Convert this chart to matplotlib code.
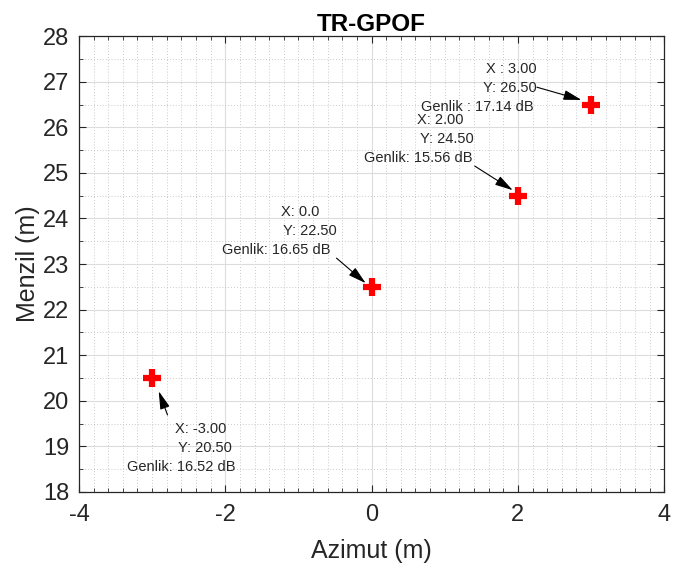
import matplotlib.pyplot as plt
import numpy as np

plt.rcParams['font.family'] = ['Liberation Sans', 'DejaVu Sans']
plt.rcParams['axes.unicode_minus'] = False

# detected targets
azimut = [-3.0, 0.0, 2.0, 3.0]
menzil = [20.5, 22.5, 24.5, 26.5]
genlik = [16.52, 16.65, 15.56, 17.14]

# data tip label text (format differs a bit per tip)
x_fmt = ['X: {:.2f}', 'X: {:.1f}', 'X: {:.2f}', 'X : {:.2f}']
g_fmt = ['Genlik: {:.2f} dB', 'Genlik: {:.2f} dB', 'Genlik: {:.2f} dB', 'Genlik : {:.2f} dB']

# where each data tip sits: (x of text, y of first line, alignment), arrow start and end
tips = [
    ((-2.69, 19.38), (-3.35, 18.55), 'left', (-2.79, 19.69), (-2.91, 20.21)),
    ((-1.245, 24.14), (-2.04, 23.31), 'left', (-0.48, 23.13), (-0.08, 22.58)),
    ((0.62, 26.16), (-0.10, 25.32), 'left', (1.41, 25.15), (1.93, 24.62)),
    ((2.26, 27.28), (2.22, 26.45), 'right', (2.26, 26.88), (2.87, 26.60)),
]

fig = plt.figure(figsize=(6.75, 5.74), dpi=100)
ax = fig.add_axes([0.117, 0.143, 0.867, 0.794])

ax.plot(azimut, menzil, linestyle='none', marker='+', color='red', ms=13, mew=4.5, zorder=5)

tc = '#262626'
for i in range(len(azimut)):
    (xt, y1), (xg, yg), ha, a0, a1 = tips[i]
    y2 = (y1 + yg) / 2
    ax.text(xt, y1, x_fmt[i].format(azimut[i]), fontsize=10.5, ha=ha, va='center', color=tc)
    ax.text(xt if ha == 'right' else xt + 0.04, y2, 'Y: {:.2f}'.format(menzil[i]), fontsize=10.5, ha=ha,
            va='center', color=tc)
    ax.text(xg, yg, g_fmt[i].format(genlik[i]), fontsize=10.5, ha=ha, va='center', color=tc)
    ax.annotate('', xy=a1, xytext=a0,
                arrowprops=dict(arrowstyle='-|>,head_length=1.1,head_width=0.3', color='black', lw=0.8,
                                shrinkA=0, shrinkB=0))

ax.set_xlim(-4, 4)
ax.set_ylim(18, 28)
ax.set_xticks(np.arange(-4, 5, 2))
ax.set_yticks(np.arange(18, 29, 1))
ax.set_xticks(np.arange(-4, 4.01, 0.2), minor=True)
ax.set_yticks(np.arange(18, 28.01, 0.5), minor=True)
ax.grid(True, which='major', color='#dcdcdc', lw=0.8)
ax.grid(True, which='minor', color='#b8b8b8', lw=0.6, linestyle=(0, (1, 2.5)))
ax.set_axisbelow(True)
ax.tick_params(which='major', direction='in', length=5, labelsize=17, colors=tc,
               top=True, right=True)
ax.tick_params(axis='y', which='major', pad=7)
ax.tick_params(axis='x', which='major', pad=9)
ax.tick_params(which='minor', direction='in', length=3, colors=tc, top=True, right=True)
for s in ax.spines.values():
    s.set_color(tc)
    s.set_linewidth(0.9)

ax.set_xlabel('Azimut (m)', fontsize=18, color=tc, labelpad=9)
ax.set_ylabel('Menzil (m)', fontsize=18, color=tc, labelpad=2)
ax.set_title('TR-GPOF', fontsize=17.5, fontweight='bold', pad=1)

fig.savefig('out.png', dpi=100)
